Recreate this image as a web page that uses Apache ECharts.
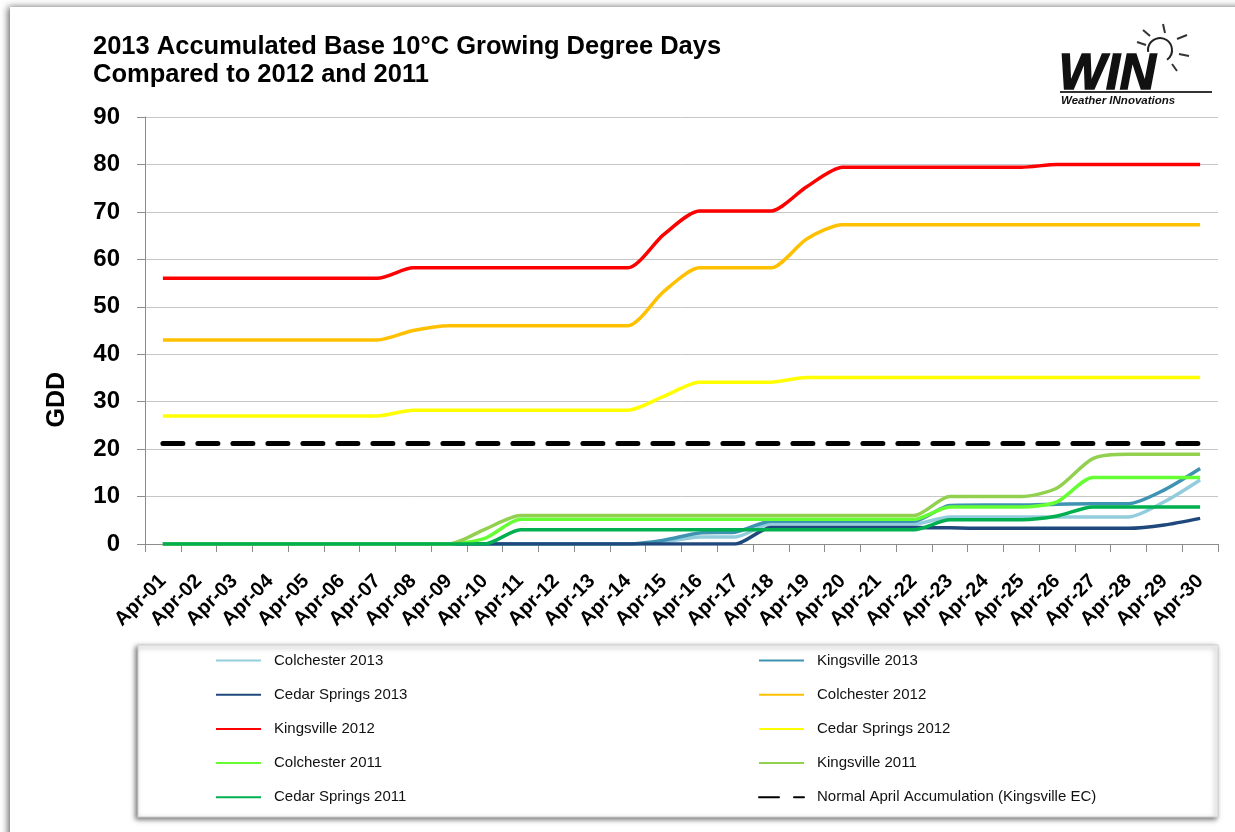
<!DOCTYPE html>
<html>
<head>
<meta charset="utf-8">
<script src="https://cdn.jsdelivr.net/npm/echarts@6/dist/echarts.min.js"></script>
<style>
  html, body { margin: 0; padding: 0; background: #fff; }
  #main { width: 1235px; height: 832px; }
</style>
</head>
<body>
<div id="main"></div>
<script>
// April days (category axis)
var days = ["Apr-01","Apr-02","Apr-03","Apr-04","Apr-05","Apr-06","Apr-07","Apr-08","Apr-09","Apr-10",
            "Apr-11","Apr-12","Apr-13","Apr-14","Apr-15","Apr-16","Apr-17","Apr-18","Apr-19","Apr-20",
            "Apr-21","Apr-22","Apr-23","Apr-24","Apr-25","Apr-26","Apr-27","Apr-28","Apr-29","Apr-30"]
var yTicks = [0, 10, 20, 30, 40, 50, 60, 70, 80, 90]

var colchester2013 = [0,0,0,0,0,0,0,0,0,0, 0,0,0,0,0.4,1.5,1.5,4.2,4.2,4.2, 4.2,4.2,5.7,5.7,5.7,5.7,5.7,5.7,8.9,13.5]
var kingsville2013 = [0,0,0,0,0,0,0,0,0,0, 0,0,0,0,0.8,2.3,2.5,4.8,4.8,4.8, 4.8,4.8,8.1,8.2,8.2,8.4,8.5,8.5,11.4,15.9]
var cedarSprings2013 = [0,0,0,0,0,0,0,0,0,0, 0,0,0,0,0,0,0,3.5,3.5,3.5, 3.5,3.5,3.4,3.3,3.3,3.3,3.3,3.3,4.0,5.4]
var colchester2012 = [43,43,43,43,43,43,43,45,46,46, 46,46,46,46,53.2,58.2,58.2,58.2,64.3,67.3, 67.3,67.3,67.3,67.3,67.3,67.3,67.3,67.3,67.3,67.3]
var kingsville2012 = [56,56,56,56,56,56,56,58.2,58.2,58.2, 58.2,58.2,58.2,58.2,65.2,70.2,70.2,70.2,75.3,79.4, 79.4,79.4,79.4,79.4,79.4,80,80,80,80,80]
var cedarSprings2012 = [27,27,27,27,27,27,27,28.2,28.2,28.2, 28.2,28.2,28.2,28.2,31.1,34.1,34.1,34.1,35.1,35.1, 35.1,35.1,35.1,35.1,35.1,35.1,35.1,35.1,35.1,35.1]
var colchester2011 = [0,0,0,0,0,0,0,0,0,1.2, 5.2,5.2,5.2,5.2,5.2,5.2,5.2,5.2,5.2,5.2, 5.2,5.2,7.8,7.8,7.8,8.9,14,14,14,14]
var kingsville2011 = [0,0,0,0,0,0,0,0,0,3.1, 6,6,6,6,6,6,6,6,6,6, 6,6,10,10,10,11.8,18,18.9,18.9,18.9]
var cedarSprings2011 = [0,0,0,0,0,0,0,0,0,0, 3,3,3,3,3,3,3,3,3,3, 3,3,5.1,5.1,5.1,5.9,7.8,7.8,7.8,7.8]
var normalApril = [21.2,21.2,21.2,21.2,21.2,21.2,21.2,21.2,21.2,21.2, 21.2,21.2,21.2,21.2,21.2,21.2,21.2,21.2,21.2,21.2, 21.2,21.2,21.2,21.2,21.2,21.2,21.2,21.2,21.2,21.2]

var chart = echarts.init(document.getElementById("main"))

function lineSeries(name, data, color) {
    return {
        name: name,
        type: "line",
        data: data,
        symbol: "none",
        smooth: 0.25,
        lineStyle: { color: color, width: 3.5 },
        itemStyle: { color: color }
    }
}

var series = [
    lineSeries("Colchester 2013", colchester2013, "#93CDDD"),
    lineSeries("Kingsville 2013", kingsville2013, "#3F93B2"),
    lineSeries("Cedar Springs 2013", cedarSprings2013, "#1F497D"),
    lineSeries("Colchester 2012", colchester2012, "#FFC000"),
    lineSeries("Kingsville 2012", kingsville2012, "#FF0000"),
    lineSeries("Cedar Springs 2012", cedarSprings2012, "#FFFF00"),
    lineSeries("Colchester 2011", colchester2011, "#66FF33"),
    lineSeries("Kingsville 2011", kingsville2011, "#92D050"),
    lineSeries("Cedar Springs 2011", cedarSprings2011, "#00B050"),
    {
        name: "Normal April Accumulation (Kingsville EC)",
        type: "line",
        data: normalApril,
        symbol: "none",
        lineStyle: { color: "#000", width: 5, type: [20, 15], cap: "round" },
        itemStyle: { color: "#000" }
    }
]

var legendText = { fontFamily: "Arial, 'Liberation Sans'", fontSize: 15, color: "#111", padding: [0, 0, 0, 8] }

chart.setOption({
    animation: false,
    title: {
        text: "2013 Accumulated Base 10°C Growing Degree Days\nCompared to 2012 and 2011",
        left: 88,
        top: 28,
        textStyle: { fontFamily: "Arial, 'Liberation Sans'", fontWeight: "bold", fontSize: 25.5, lineHeight: 28, color: "#000" }
    },
    graphic: [
        {
            type: "rect", z: -100,
            shape: { x: 10, y: 7, width: 1300, height: 900 },
            style: { fill: "#fff", shadowBlur: 7, shadowColor: "rgba(0,0,0,0.6)", shadowOffsetX: -2, shadowOffsetY: 0 }
        },
        {
            type: "rect", z: -50,
            shape: { x: 138, y: 645, width: 1080, height: 172 },
            style: { fill: "#fff", stroke: "#d0d0d0", lineWidth: 1, shadowBlur: 5, shadowColor: "rgba(0,0,0,0.55)", shadowOffsetX: -2, shadowOffsetY: 2 }
        },
        {
            type: "text", left: 45, top: 372, rotation: Math.PI / 2,
            style: { text: "GDD", font: "bold 25px Arial, 'Liberation Sans'", fill: "#000" }
        },
        // WIN logo
        {
            type: "text", left: 1058, top: 49,
            style: { text: "WIN", font: "italic 900 50px Arial, 'Liberation Sans'", fill: "#111", stroke: "#111", lineWidth: 1.5 }
        },
        {
            type: "rect", shape: { x: 1060, y: 91, width: 152, height: 2 }, style: { fill: "#333" }
        },
        {
            type: "text", left: 1061, top: 95,
            style: { text: "Weather INnovations", font: "italic bold 11.5px Arial, 'Liberation Sans'", fill: "#111" }
        },
        {
            type: "arc", shape: { cx: 1160, cy: 50, r: 12, startAngle: Math.PI * 0.95, endAngle: Math.PI * 2.3 },
            style: { stroke: "#222", lineWidth: 2, fill: null }
        },
        { type: "line", shape: { x1: 1137, y1: 42, x2: 1146, y2: 45 }, style: { stroke: "#333", lineWidth: 2 } },
        { type: "line", shape: { x1: 1143, y1: 30, x2: 1150, y2: 36 }, style: { stroke: "#333", lineWidth: 2 } },
        { type: "line", shape: { x1: 1163, y1: 24, x2: 1165, y2: 33 }, style: { stroke: "#333", lineWidth: 2 } },
        { type: "line", shape: { x1: 1177, y1: 39, x2: 1187, y2: 35 }, style: { stroke: "#333", lineWidth: 2 } },
        { type: "line", shape: { x1: 1179, y1: 54, x2: 1189, y2: 56 }, style: { stroke: "#333", lineWidth: 2 } },
        { type: "line", shape: { x1: 1172, y1: 64, x2: 1177, y2: 71 }, style: { stroke: "#333", lineWidth: 2 } }
    ],
    legend: [
        {
            orient: "vertical",
            left: 215, top: 653, padding: 0,
            itemWidth: 45, itemHeight: 14, itemGap: 19.2,
            itemStyle: { opacity: 0 },
            textStyle: legendText,
            data: ["Colchester 2013", "Cedar Springs 2013", "Kingsville 2012", "Colchester 2011", "Cedar Springs 2011"]
        },
        {
            orient: "vertical",
            left: 758, top: 653, padding: 0,
            itemWidth: 45, itemHeight: 14, itemGap: 19.2,
            itemStyle: { opacity: 0 },
            textStyle: legendText,
            data: ["Kingsville 2013", "Colchester 2012", "Cedar Springs 2012", "Kingsville 2011", "Normal April Accumulation (Kingsville EC)"]
        }
    ],
    grid: { left: 145, right: 17, top: 117, bottom: 288, containLabel: false },
    xAxis: {
        type: "category",
        data: days,
        boundaryGap: true,
        axisLine: { lineStyle: { color: "#8c8c8c", width: 1 } },
        axisTick: { show: true, interval: 0, length: 8, lineStyle: { color: "#8c8c8c" } },
        axisLabel: {
            interval: 0, rotate: 45, margin: 34,
            fontFamily: "Arial, 'Liberation Sans'", fontWeight: "bold", fontSize: 20, color: "#000"
        },
        splitLine: { show: false }
    },
    yAxis: {
        type: "value",
        min: yTicks[0],
        max: yTicks[yTicks.length - 1],
        interval: 10,
        axisLine: { show: true, lineStyle: { color: "#8c8c8c", width: 1 } },
        axisTick: { show: true, length: 8, lineStyle: { color: "#8c8c8c" } },
        axisLabel: {
            margin: 25,
            fontFamily: "Arial, 'Liberation Sans'", fontWeight: "bold", fontSize: 24, color: "#000"
        },
        splitLine: { show: true, lineStyle: { color: "#c6c6c6", width: 1 } }
    },
    series: series
})
</script>
</body>
</html>
